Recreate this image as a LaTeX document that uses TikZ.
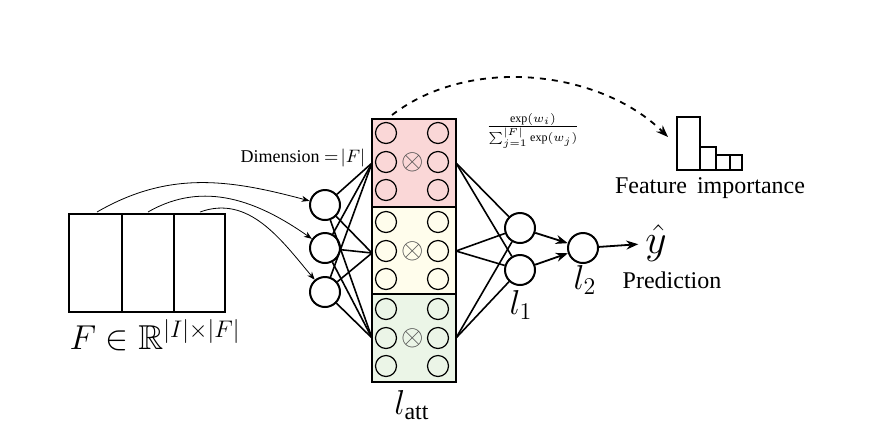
\documentclass[tikz,border=0pt]{standalone}
\usepackage{amssymb}
\usepackage{fontspec}
\setmainfont{Liberation Serif}
\usetikzlibrary{arrows.meta}
\definecolor{cr}{RGB}{250,215,215}
\definecolor{cy}{RGB}{255,253,236}
\definecolor{cg}{RGB}{235,245,231}
\begin{document}
\begin{tikzpicture}[x=0.5pt,y=-0.5pt,
  big/.style={circle,draw,line width=1pt,minimum size=15pt,inner sep=0pt},
  sm/.style={circle,draw,line width=0.6pt,minimum size=10.5pt,inner sep=0pt},
  ln/.style={line width=0.8pt},
  arr/.style={-{Stealth[length=6pt]},line width=0.9pt},
  thin arr/.style={-{Stealth[length=4pt]},line width=0.4pt}]
\useasboundingbox (0,0) rectangle (871,440);
% matrix
\draw[line width=1pt] (69,214) rectangle (225,312);
\draw[line width=1pt] (122,214) -- (122,312) (174,214) -- (174,312);
\coordinate (m1) at (97,212); \coordinate (m2) at (148,212); \coordinate (m3) at (200,212);
\node (F) at (155,335) {\LARGE $F\in\mathbb{R}^{|I|\times|F|}$};
% inputs
\node[big] (i1) at (325,205) {};
\node[big] (i2) at (325,248) {};
\node[big] (i3) at (325,292) {};
\draw[thin arr] (m1) to[out=30,in=165] (i1);
\draw[thin arr] (m2) to[out=30,in=145] (i2);
\draw[thin arr] (m3) to[out=20,in=130] (i3);
\node (dim) at (303,158) {\small Dimension $=\!|F|$};
% attention block
\draw[fill=cr,line width=1.2pt] (372,119) rectangle (456,207);
\draw[fill=cy,line width=1.2pt] (372,207) rectangle (456,294);
\draw[fill=cg,line width=1.2pt] (372,294) rectangle (456,382);
\foreach \y in {133,162,190,222,251,279,309,338,366}{
  \node[sm] at (386,\y) {}; \node[sm] at (438,\y) {};}
\foreach \y in {162,251,338}{\node[text=black!70] at (413,\y) {\Large $\otimes$};}
\coordinate (L1) at (372,163); \coordinate (L2) at (372,253); \coordinate (L3) at (372,338);
\coordinate (R1) at (456,163); \coordinate (R2) at (456,251); \coordinate (R3) at (456,338);
\foreach \a in {i1,i2,i3}{\foreach \b in {L1,L2,L3}{\draw[ln] (\a) -- (\b);}}
\node (latt) at (412,405) {\LARGE $l_{\mathrm{att}}$};
% l1
\node[big] (h1) at (520,228) {};
\node[big] (h2) at (520,270) {};
\foreach \a in {R1,R2,R3}{\foreach \b in {h1,h2}{\draw[ln] (\a) -- (\b);}}
\node (l1) at (521,305) {\LARGE $l_1$};
% l2
\node[big] (o) at (583,248) {};
\draw[arr] (h1) -- (o); \draw[arr] (h2) -- (o);
\node (yhat) at (656,243) {\huge $\hat{y}$};
\draw[arr] (o) -- (yhat);
\node (l2) at (585,280) {\LARGE $l_2$};
\node (pred) at (672,280) {\large Prediction};
% feature importance
\draw[line width=1pt] (677,117) rectangle (700,170) (700,147) rectangle (716,170)
  (716,155) rectangle (730,170) (730,155) rectangle (742,170);
\coordinate (fi) at (668,137);
\node (fil) at (710,188) {\large Feature\, importance};
\coordinate (top) at (392,115);
\draw[arr,dashed] (top) .. controls (470,55) and (600,70) .. (fi);
\node (frac) at (533,131) {\small $\frac{\exp(w_i)}{\sum_{j=1}^{|F|}\exp(w_j)}$};
\end{tikzpicture}
\end{document}
